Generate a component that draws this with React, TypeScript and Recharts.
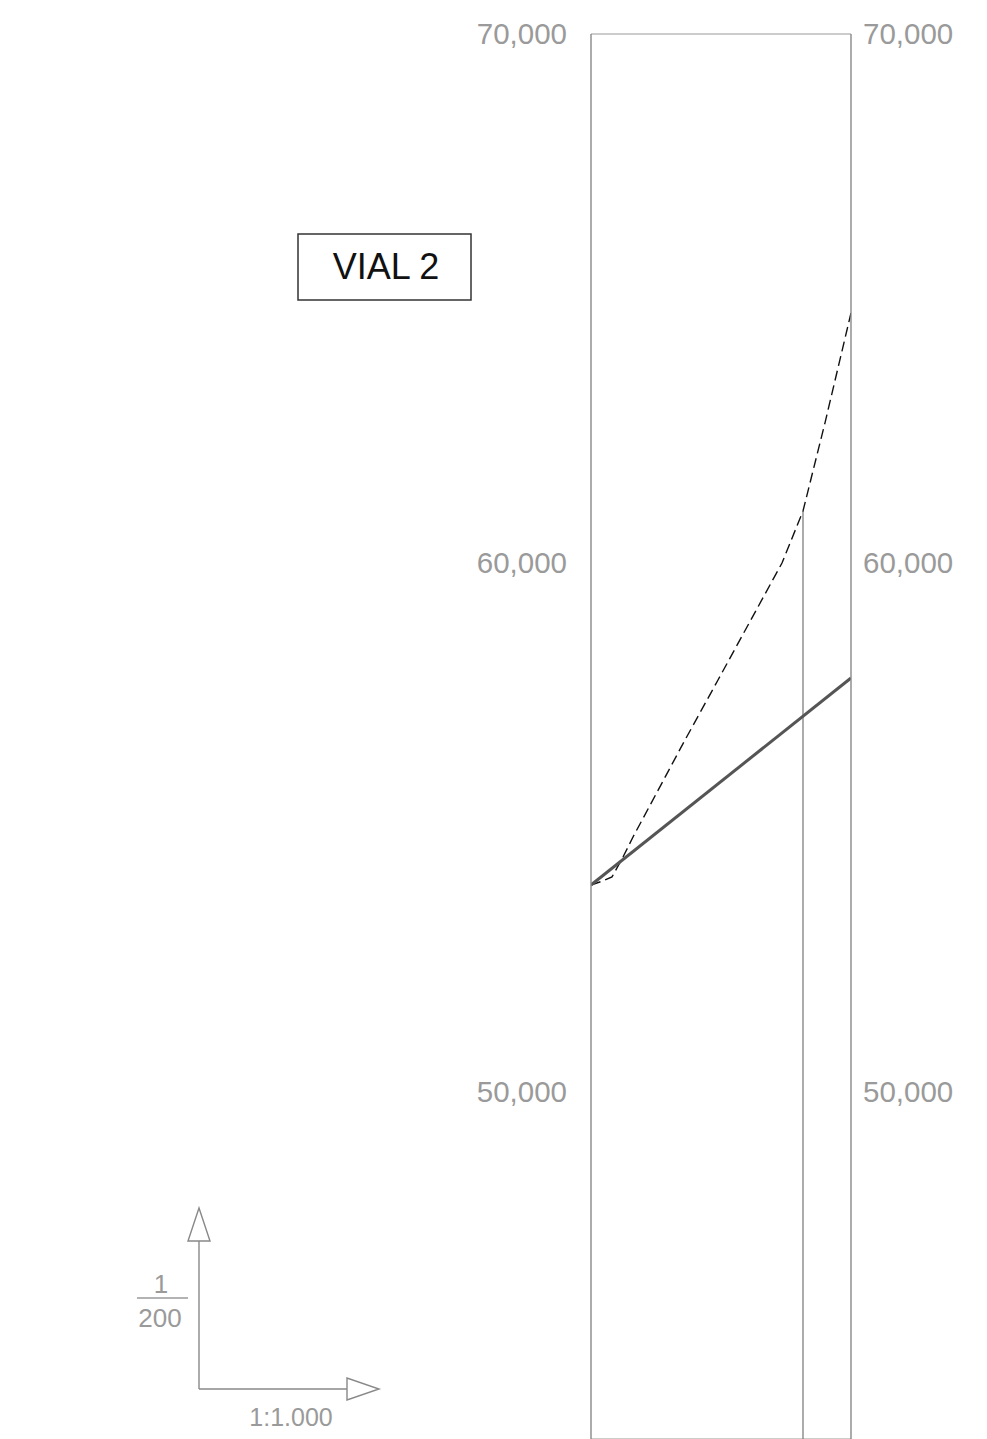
import { LineChart, Line, XAxis, YAxis, CartesianGrid, ReferenceLine } from 'recharts';

// stations along the road (m) and elevations
const stations = [0, 12, 21, 32, 42, 94, 127, 191, 212, 234, 260];
const terrain = [53913, 53990, 54065, 54442, 54820, 56654, 57788, 60000, 60983, 62650, 64726];
const gradeStations = [0, 260];
const grade = [53913, 57826];
const yTicks = [50000, 60000, 70000];
const markerStation = 212;
const markerTop = 60983;

const terrainData = stations.map((s, i) => ({ s, terrain: terrain[i] }));
const gradeData = gradeStations.map((s, i) => ({ s, grade: grade[i] }));

const FONT = "'Liberation Sans', Arial, sans-serif";
const GRAY = '#9a9a9a';

const fmt = (v: number) => v.toLocaleString('en-US');

export default function App() {
  return (
    <div style={{ position: 'absolute', left: 0, top: 0, width: 987, height: 1439, background: '#fff', fontFamily: FONT }}>
      <LineChart width={987} height={1439} margin={{ top: 34, right: 0, bottom: 0, left: 0 }}>
        <CartesianGrid vertical={false} stroke="#999" strokeWidth={1.2} />
        <XAxis type="number" dataKey="s" domain={[0, 260]} hide allowDataOverflow />
        <YAxis
          yAxisId="l"
          orientation="left"
          width={591}
          domain={[43440, 70000]}
          ticks={yTicks}
          interval={0}
          allowDataOverflow
          tickLine={false}
          tickSize={0}
          tickMargin={24}
          axisLine={{ stroke: '#888', strokeWidth: 1.4 }}
          tick={{ fill: GRAY, fontSize: 29.5, fontFamily: FONT }}
          tickFormatter={fmt}
        />
        <YAxis
          yAxisId="r"
          orientation="right"
          width={136}
          domain={[43440, 70000]}
          ticks={yTicks}
          interval={0}
          allowDataOverflow
          tickLine={false}
          tickSize={0}
          tickMargin={12}
          axisLine={{ stroke: '#888', strokeWidth: 1.4 }}
          tick={{ fill: GRAY, fontSize: 29.5, fontFamily: FONT }}
          tickFormatter={fmt}
        />
        <ReferenceLine
          yAxisId="l"
          segment={[{ x: markerStation, y: 43440 }, { x: markerStation, y: markerTop }]}
          stroke="#888"
          strokeWidth={1.4}
          ifOverflow="visible"
        />
        <Line
          yAxisId="l"
          data={terrainData}
          dataKey="terrain"
          type="linear"
          stroke="#111"
          strokeWidth={1.4}
          strokeDasharray="10 5"
          dot={false}
          isAnimationActive={false}
        />
        <Line
          yAxisId="l"
          data={gradeData}
          dataKey="grade"
          type="linear"
          stroke="#555"
          strokeWidth={3}
          dot={false}
          isAnimationActive={false}
        />
      </LineChart>

      <svg width={987} height={1439} style={{ position: 'absolute', left: 0, top: 0, pointerEvents: 'none' }}>
        <rect x={298} y={234} width={173} height={66} fill="none" stroke="#333" strokeWidth={1.5} />
        <text x={386} y={279} textAnchor="middle" fontSize={36} fill="#111" fontFamily={FONT}>VIAL 2</text>

        <line x1={199} y1={1389} x2={199} y2={1241} stroke="#888" strokeWidth={1.4} />
        <polygon points="188,1241 210,1241 199,1208" fill="#fff" stroke="#888" strokeWidth={1.4} />
        <line x1={199} y1={1389} x2={347} y2={1389} stroke="#888" strokeWidth={1.4} />
        <polygon points="347,1378 347,1400 379,1389" fill="#fff" stroke="#888" strokeWidth={1.4} />

        <text x={161} y={1293} textAnchor="middle" fontSize={26} fill={GRAY} fontFamily={FONT}>1</text>
        <line x1={137} y1={1298} x2={188} y2={1298} stroke={GRAY} strokeWidth={1.4} />
        <text x={160} y={1327} textAnchor="middle" fontSize={26} fill={GRAY} fontFamily={FONT}>200</text>
        <text x={291} y={1426} textAnchor="middle" fontSize={25} fill={GRAY} fontFamily={FONT}>1:1.000</text>
      </svg>
    </div>
  );
}
